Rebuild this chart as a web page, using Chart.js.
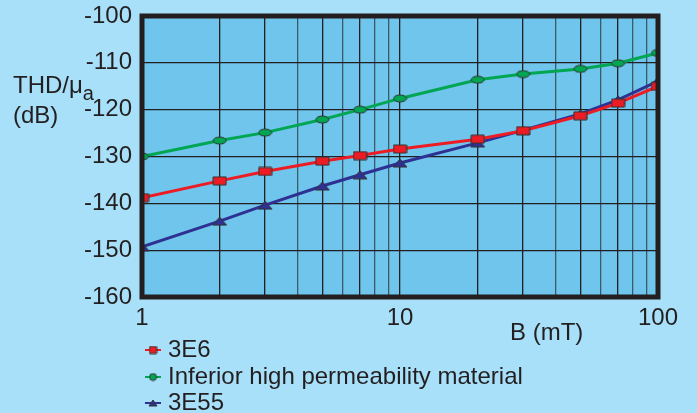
<!DOCTYPE html>
<html>
<head>
<meta charset="utf-8">
<script src="https://cdn.jsdelivr.net/npm/chart.js@4/dist/chart.umd.min.js"></script>
<style>
html,body{margin:0;padding:0;background:#a7e0f8;}
#wrap{position:relative;width:697px;height:413px;}
</style>
</head>
<body>
<div id="wrap"><canvas id="c" width="697" height="413"></canvas></div>
<script>
// ---- data ----
const bValues = [1, 2, 3, 5, 7, 10, 20, 30, 50, 70, 100];
const thd3E6 = [-138.8, -135.2, -133.2, -131.0, -129.8, -128.4, -126.3, -124.5, -121.3, -118.6, -115.0];
const thdInferior = [-130.0, -126.6, -124.9, -122.1, -120.0, -117.6, -113.6, -112.4, -111.3, -110.1, -107.9];
const thd3E55 = [-149.3, -143.8, -140.4, -136.3, -133.9, -131.4, -127.1, -124.4, -120.9, -117.9, -113.9];
const seriesNames = ['3E6', 'Inferior high permeability material', '3E55'];
const xTickValues = [1,2,3,4,5,6,7,8,9,10,20,30,40,50,60,70,80,90,100];
const xLabelValues = [1, 10, 100];
const majorGridValues = [1,2,3,5,7,10,20,30,50,70,100];
const yMin = -160, yMax = -100, yStep = 10;

const INK = '#231f20';
const FONT = '"Liberation Sans", Arial, sans-serif';
const colors = ['#ed1c24', '#00a651', '#2e3192'];

function makeMarker(kind, fill, w, h) {
  const c = document.createElement('canvas');
  c.width = w + 2; c.height = h + 2;
  const g = c.getContext('2d');
  g.fillStyle = fill; g.strokeStyle = '#333'; g.lineWidth = 1;
  g.beginPath();
  if (kind === 'rect') { g.rect(1, 1, w, h); }
  else if (kind === 'ellipse') { g.ellipse(1 + w/2, 1 + h/2, w/2, h/2, 0, 0, Math.PI*2); }
  else { g.moveTo(1 + w/2, 1); g.lineTo(1 + w, 1 + h); g.lineTo(1, 1 + h); g.closePath(); }
  g.fill(); g.stroke();
  return c;
}
const markers = [
  makeMarker('rect', colors[0], 13, 8),
  makeMarker('ellipse', colors[1], 13, 7),
  makeMarker('tri', colors[2], 14, 8)
];
const legendMarkers = [
  makeMarker('rect', colors[0], 7, 7),
  makeMarker('ellipse', colors[1], 7, 7),
  makeMarker('tri', colors[2], 8, 6)
];

function toPoints(arr) { return bValues.map((b, i) => ({x: b, y: arr[i]})); }
const seriesData = [thd3E6, thdInferior, thd3E55];

const plotDeco = {
  id: 'plotDeco',
  beforeDraw(chart) {
    const a = chart.chartArea, ctx = chart.ctx;
    ctx.save();
    ctx.fillStyle = '#6fc5ec';
    ctx.fillRect(a.left, a.top, a.right - a.left, a.bottom - a.top);
    ctx.restore();
  },
  afterDraw(chart) {
    const a = chart.chartArea, ctx = chart.ctx;
    ctx.save();
    ctx.strokeStyle = INK; ctx.lineWidth = 5;
    ctx.strokeRect(a.left, a.top, a.right - a.left, a.bottom - a.top);
    ctx.fillStyle = INK;
    ctx.textBaseline = 'alphabetic';
    ctx.textAlign = 'left';
    ctx.font = '24px ' + FONT;
    // y title
    ctx.fillText('THD/\u03bc', 13, 93);
    const w = ctx.measureText('THD/\u03bc').width;
    ctx.font = '20px ' + FONT;
    ctx.fillText('a', 13 + w, 100);
    ctx.font = '24px ' + FONT;
    ctx.fillText('(dB)', 13, 123);
    // x title
    ctx.fillText('B (mT)', 510, 340);
    // legend
    const base = [357, 384, 410];
    for (let i = 0; i < 3; i++) {
      const cy = base[i] - 7;
      ctx.strokeStyle = colors[i]; ctx.lineWidth = 2;
      ctx.beginPath(); ctx.moveTo(145, cy); ctx.lineTo(161, cy); ctx.stroke();
      const m = legendMarkers[i];
      ctx.drawImage(m, 153 - m.width/2, cy - m.height/2);
      ctx.fillStyle = INK;
      ctx.fillText(seriesNames[i], 168, base[i]);
    }
    ctx.restore();
  }
};

new Chart(document.getElementById('c'), {
  type: 'line',
  data: {
    datasets: seriesData.map((arr, i) => ({
      label: seriesNames[i],
      data: toPoints(arr),
      borderColor: colors[i],
      backgroundColor: colors[i],
      borderWidth: 3,
      pointStyle: markers[i],
      pointRadius: 6,
      tension: 0
    }))
  },
  options: {
    responsive: false,
    animation: false,
    events: [],
    layout: { padding: { left: 0, top: 16, right: 39, bottom: 76 } },
    plugins: { legend: { display: false }, tooltip: { enabled: false } },
    scales: {
      x: {
        type: 'logarithmic', min: 1, max: 100,
        afterBuildTicks(scale) { scale.ticks = xTickValues.map(v => ({value: v})); },
        afterFit(scale) { scale.height = 40; scale.paddingLeft = 0; scale.paddingRight = 0; },
        border: { display: false },
        grid: {
          drawTicks: false,
          lineWidth: 1.3,
          color(ctx) {
            const v = ctx.tick && ctx.tick.value;
            return majorGridValues.includes(v) ? INK : 'rgba(35,31,32,0.65)';
          }
        },
        ticks: {
          autoSkip: false, maxRotation: 0, padding: 7,
          color: INK, font: { size: 24, family: FONT },
          callback(v) { return xLabelValues.includes(v) ? String(v) : ''; }
        }
      },
      y: {
        min: yMin, max: yMax,
        afterFit(scale) { scale.width = 142; scale.paddingTop = 0; scale.paddingBottom = 0; },
        border: { display: false },
        grid: { drawTicks: false, color: INK, lineWidth: 1.3 },
        ticks: {
          stepSize: yStep, padding: 10,
          color: INK, font: { size: 24, family: FONT }
        }
      }
    }
  },
  plugins: [plotDeco]
});
</script>
</body>
</html>
